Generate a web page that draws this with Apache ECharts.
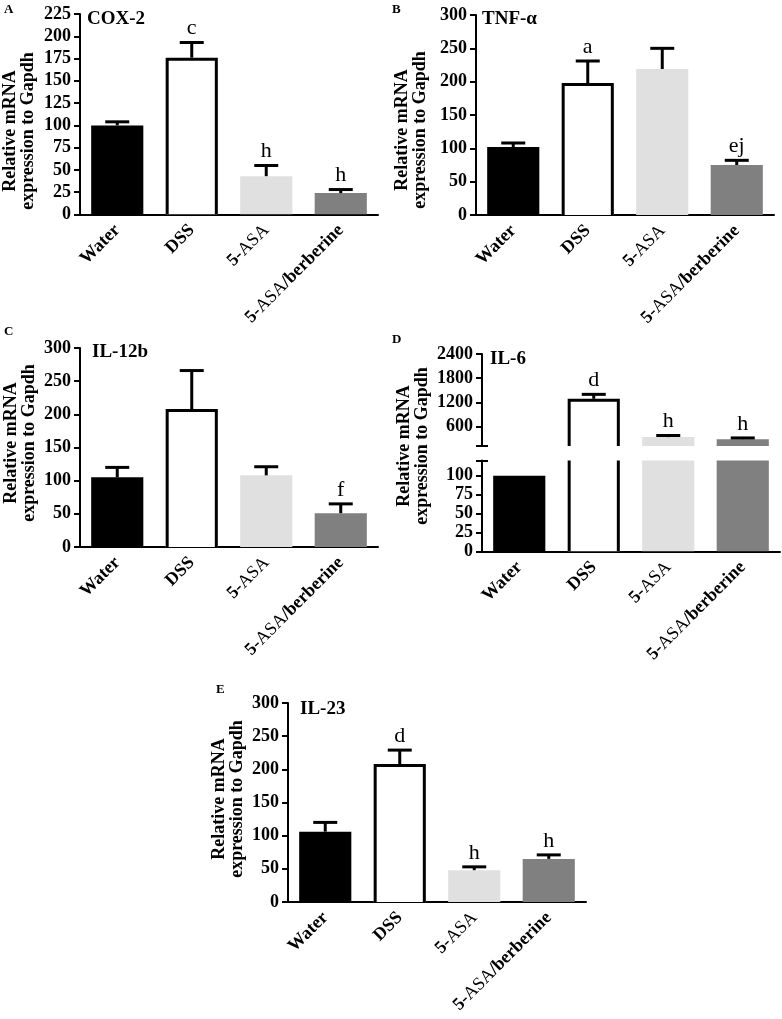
<!DOCTYPE html>
<html><head><meta charset="utf-8">
<script src="https://cdn.jsdelivr.net/npm/echarts@6/dist/echarts.min.js"></script>
<style>html,body{margin:0;padding:0;background:#fff}#c{width:782px;height:1019px}</style>
</head><body><div id="c"></div>
<script>
// ---------- data ----------
const categories = ['Water', 'DSS', '5-ASA', '5-ASA/berberine'];

const cox2Values = [100, 176, 43, 24];
const cox2ErrTop = [104, 193, 55, 28];
const cox2Sig = ['', 'c', 'h', 'h'];

const tnfValues = [102, 198, 219, 75];
const tnfErrTop = [108, 231, 250, 82];
const tnfSig = ['', 'a', '', 'ej'];

const il12bValues = [105, 208, 108, 51];
const il12bErrTop = [120, 266, 121, 65];
const il12bSig = ['', '', '', 'f'];

const il6Values = [100, 1290, 340, 290];
const il6ErrTop = [100, 1400, 380, 320];
const il6Sig = ['', 'd', 'h', 'h'];
const il6UpperTicks = [600, 1200, 1800, 2400];
const il6LowerTicks = [0, 25, 50, 75, 100];
const il6Break = 120;

const il23Values = [106, 208, 48, 65];
const il23ErrTop = [120, 229, 53, 71];
const il23Sig = ['', 'd', 'h', 'h'];

// ---------- style ----------
const SERIF = '"Liberation Serif", "Times New Roman", Times, serif';
const FILLS = ['#000000', '#ffffff', '#e0e0e0', '#808080'];

function renderBar(params, api) {
  const i = api.value(0), v = api.value(1);
  const top = api.coord([i, v]);
  const base = api.coord([i, 0]);
  const w = api.size([1, 0])[0] * 0.7;
  const x0 = top[0] - w / 2;
  const fill = FILLS[i];
  if (fill === '#ffffff') {
    return { type: 'group', children: [
      { type: 'rect', shape: { x: x0, y: top[1], width: w, height: base[1] - top[1] }, style: { fill: '#fff' } },
      { type: 'polyline', shape: { points: [[x0 + 1.5, base[1]], [x0 + 1.5, top[1] + 1.5], [x0 + w - 1.5, top[1] + 1.5], [x0 + w - 1.5, base[1]]] },
        style: { stroke: '#000', lineWidth: 3, fill: null } }
    ]};
  }
  return { type: 'rect', shape: { x: x0, y: top[1], width: w, height: base[1] - top[1] }, style: { fill: fill } };
}

function makeErrRender(sig) {
  return function (params, api) {
    const i = api.value(0), v = api.value(1), e = api.value(2);
    const pv = api.coord([i, v]), pe = api.coord([i, e]);
    const children = [];
    if (e > v) {
      children.push({ type: 'line', shape: { x1: pv[0], y1: pv[1], x2: pe[0], y2: pe[1] }, style: { stroke: '#000', lineWidth: 3 } });
      children.push({ type: 'line', shape: { x1: pe[0] - 12, y1: pe[1], x2: pe[0] + 12, y2: pe[1] }, style: { stroke: '#000', lineWidth: 3 } });
    }
    if (sig[i]) {
      children.push({ type: 'text', x: pe[0], y: pe[1] - 3,
        style: { text: sig[i], font: '22px ' + SERIF, fill: '#000', align: 'center', verticalAlign: 'bottom' } });
    }
    return { type: 'group', children: children };
  };
}

const grids = [
  { left: 80, top: 14, width: 298, height: 200.5 },
  { left: 476, top: 15, width: 298, height: 200 },
  { left: 80, top: 348, width: 298, height: 199 },
  { left: 482, top: 354, width: 298, height: 92 },
  { left: 482, top: 460.5, width: 298, height: 91 },
  { left: 288, top: 703, width: 298, height: 199 }
];

const labelRich = {
  b: { fontFamily: SERIF, fontSize: 18, fontWeight: 'bold', color: '#000' },
  n: { fontFamily: SERIF, fontSize: 18, fontWeight: 'normal', color: '#000' }
};
function catFormatter(v) {
  if (v.indexOf('5-ASA') === 0) {
    return '{b|5-}{n|ASA}' + (v.length > 5 ? '{b|' + v.slice(5) + '}' : '');
  }
  return '{b|' + v + '}';
}

const xAxes = grids.map((g, gi) => ({
  type: 'category', gridIndex: gi, data: categories, show: gi !== 3,
  axisLine: { lineStyle: { color: '#000', width: 2 } },
  axisTick: { alignWithLabel: true, length: 6, lineStyle: { color: '#000', width: 2 } },
  axisLabel: { rotate: 45, margin: 13, formatter: catFormatter, rich: labelRich, interval: 0 }
}));

const plainNum = v => String(v);
const yBase = {
  type: 'value', position: 'left',
  axisLine: { show: true, lineStyle: { color: '#000', width: 2 } },
  axisTick: { show: true, length: 6, lineStyle: { color: '#000', width: 2 } },
  axisLabel: { color: '#000', fontFamily: SERIF, fontWeight: 'bold', fontSize: 18, margin: 9, formatter: plainNum },
  splitLine: { show: false }
};
function yAx(extra) {
  const a = JSON.parse(JSON.stringify(yBase));
  a.axisLabel.formatter = plainNum;
  return Object.assign(a, extra);
}

const yAxes = [
  yAx({ gridIndex: 0, min: 0, max: 225, interval: 25 }),
  yAx({ gridIndex: 1, min: 0, max: 300, interval: 50 }),
  yAx({ gridIndex: 2, min: 0, max: 300, interval: 50 }),
  yAx({ gridIndex: 3, min: il6Break, max: 2400,
        axisTick: { show: true, length: 6, lineStyle: { color: '#000', width: 2 }, customValues: [il6Break].concat(il6UpperTicks) },
        axisLabel: { color: '#000', fontFamily: SERIF, fontWeight: 'bold', fontSize: 18, margin: 9, customValues: il6UpperTicks, formatter: plainNum } }),
  yAx({ gridIndex: 4, min: 0, max: il6Break,
        axisTick: { show: true, length: 6, lineStyle: { color: '#000', width: 2 }, customValues: il6LowerTicks.concat([il6Break]) },
        axisLabel: { color: '#000', fontFamily: SERIF, fontWeight: 'bold', fontSize: 18, margin: 9, customValues: il6LowerTicks, formatter: plainNum } }),
  yAx({ gridIndex: 5, min: 0, max: 300, interval: 50 }),
  // break marks (inner half) for the IL-6 panel
  { type: 'value', gridIndex: 3, position: 'left', offset: 0, min: il6Break, max: 2400, axisLine: { show: false }, axisLabel: { show: false }, splitLine: { show: false },
    axisTick: { show: true, inside: true, length: 6, lineStyle: { color: '#000', width: 2 }, customValues: [il6Break] } },
  { type: 'value', gridIndex: 4, position: 'left', offset: 0, min: 0, max: il6Break, axisLine: { show: false }, axisLabel: { show: false }, splitLine: { show: false },
    axisTick: { show: true, inside: true, length: 6, lineStyle: { color: '#000', width: 2 }, customValues: [il6Break] } }
];

function barSeries(gi, vals) {
  return { type: 'custom', xAxisIndex: gi, yAxisIndex: gi, clip: true, renderItem: renderBar,
    encode: { x: 0, y: 1 }, data: vals.map((v, i) => [i, v]) };
}
function errSeries(gi, vals, errs, sig) {
  return { type: 'custom', xAxisIndex: gi, yAxisIndex: gi, clip: false, z: 5, renderItem: makeErrRender(sig),
    encode: { x: 0, y: [1, 2] }, data: vals.map((v, i) => [i, v, errs[i]]) };
}

const series = [
  barSeries(0, cox2Values), errSeries(0, cox2Values, cox2ErrTop, cox2Sig),
  barSeries(1, tnfValues), errSeries(1, tnfValues, tnfErrTop, tnfSig),
  barSeries(2, il12bValues), errSeries(2, il12bValues, il12bErrTop, il12bSig),
  barSeries(3, il6Values), errSeries(3, il6Values, il6ErrTop, il6Sig),
  barSeries(4, il6Values),
  barSeries(5, il23Values), errSeries(5, il23Values, il23ErrTop, il23Sig)
];

const panelLetter = (t, l, tp) => ({ text: t, left: l, top: tp, padding: 0,
  textStyle: { fontFamily: SERIF, fontWeight: 'bold', fontSize: 13, color: '#000' } });
const geneTitle = (t, l, tp) => ({ text: t, left: l, top: tp, padding: 0,
  textStyle: { fontFamily: SERIF, fontWeight: 'bold', fontSize: 19, color: '#000' } });

const titles = [
  panelLetter('A', 4, 3), panelLetter('B', 392, 3), panelLetter('C', 4, 325),
  panelLetter('D', 392, 333), panelLetter('E', 216, 683),
  geneTitle('COX-2', 87, 10), geneTitle('TNF-α', 482, 10), geneTitle('IL-12b', 92, 343),
  geneTitle('IL-6', 490, 350), geneTitle('IL-23', 300, 700)
];

const yTitle = (x, y) => ({ type: 'text', x: x, y: y, rotation: Math.PI / 2,
  style: { text: 'Relative mRNA\nexpression to Gapdh', font: 'bold 18px ' + SERIF, fill: '#000',
           align: 'center', verticalAlign: 'middle', lineHeight: 18 } });

const chart = echarts.init(document.getElementById('c'), null, { renderer: 'canvas' });
chart.setOption({
  animation: false,
  backgroundColor: '#fff',
  title: titles,
  grid: grids,
  xAxis: xAxes,
  yAxis: yAxes,
  series: series,
  graphic: [yTitle(19, 131), yTitle(411, 130), yTitle(20, 443), yTitle(413, 446), yTitle(228, 799)]
});
</script></body></html>
